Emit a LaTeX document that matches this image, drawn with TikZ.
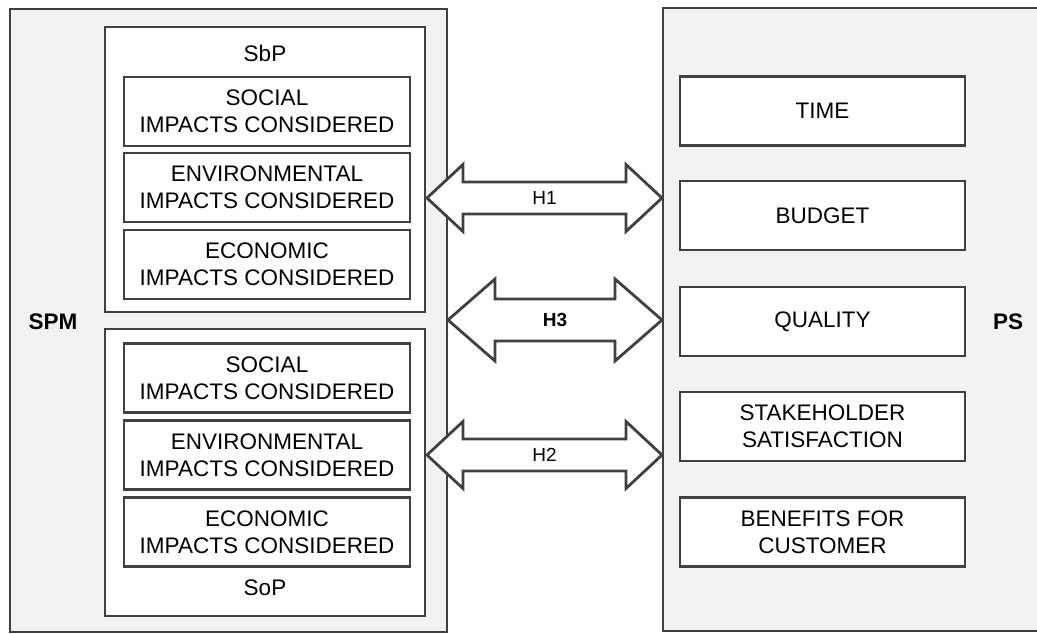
\documentclass[tikz,border=0pt]{standalone}
\usepackage{fontspec}
\setmainfont{Liberation Sans}
\definecolor{bord}{HTML}{404040}
\definecolor{panel}{HTML}{F2F2F2}
\begin{document}
\begin{tikzpicture}[x=1pt,y=-1pt,
  panelbox/.style={draw=bord, line width=2.8pt, fill=panel, rectangle, inner sep=0pt},
  groupbox/.style={draw=bord, line width=2.8pt, fill=white, rectangle, minimum width=320pt, inner sep=0pt},
  itembox/.style={draw=bord, line width=2.8pt, fill=white, rectangle, minimum width=286pt, minimum height=69pt, align=center, inner sep=0pt, font=\fontsize{22.5}{27}\selectfont},
  psbox/.style={itembox, minimum width=285pt},
  lbl/.style={font=\fontsize{22.5}{27}\selectfont, inner sep=0pt},
  blbl/.style={font=\fontsize{22.5}{27}\selectfont\bfseries, inner sep=0pt},
  harrow/.style={draw=bord, line width=2.8pt, fill=white, line join=miter},
  hlbl/.style={font=\fontsize{19}{22}\selectfont, inner sep=0pt}
]
\useasboundingbox (0,0) rectangle (1037,634);
\clip (0,0) rectangle (1037,634);
\fill[white] (0,0) rectangle (1037,634);

% left panel
\node[panelbox, minimum width=437pt, minimum height=623pt] (SPMbox) at (228.5,320.5) {};
\node[blbl] (SPM) at (53,322) {SPM};

% SbP group
\node[groupbox, minimum height=285pt] (SbP) at (265,169.5) {};
\node[lbl] (SbPlabel) at (265,53) {SbP};
\node[itembox] (sbsoc) at (267,111.5) {SOCIAL\\IMPACTS CONSIDERED};
\node[itembox] (sbenv) at (267,187.5) {ENVIRONMENTAL\\IMPACTS CONSIDERED};
\node[itembox] (sbeco) at (267,264.5) {ECONOMIC\\IMPACTS CONSIDERED};

% SoP group
\node[groupbox, minimum height=287pt] (SoP) at (265,472.5) {};
\node[itembox] (sosoc) at (267,378) {SOCIAL\\IMPACTS CONSIDERED};
\node[itembox] (soenv) at (267,455) {ENVIRONMENTAL\\IMPACTS CONSIDERED};
\node[itembox] (soeco) at (267,532) {ECONOMIC\\IMPACTS CONSIDERED};
\node[lbl] (SoPlabel) at (265,588) {SoP};

% right panel
\node[panelbox, minimum width=390pt, minimum height=623pt] (PSbox) at (858,319.5) {};
\node[blbl] (PS) at (1008,322) {PS};
\node[psbox] (time) at (822.5,111) {TIME};
\node[psbox] (budget) at (822.5,215.5) {BUDGET};
\node[psbox] (quality) at (822.5,321.5) {QUALITY};
\node[psbox] (stake) at (822.5,426.5) {STAKEHOLDER\\SATISFACTION};
\node[psbox] (benef) at (822.5,532) {BENEFITS FOR\\CUSTOMER};

% hypothesis arrows
\draw[harrow] (427,198) -- (463,164.5) -- (463,182) -- (626,182) -- (626,164.5) -- (662,198)
  -- (626,231.5) -- (626,214) -- (463,214) -- (463,231.5) -- cycle;
\node[hlbl] (H1) at (544.5,198) {H1};

\draw[harrow] (448,320) -- (495,279) -- (495,299) -- (615,299) -- (615,279) -- (662,320)
  -- (615,361) -- (615,341) -- (495,341) -- (495,361) -- cycle;
\node[hlbl, font=\fontsize{19}{22}\selectfont\bfseries] (H3) at (555,320) {H3};

\draw[harrow] (427,455) -- (463,421.5) -- (463,439) -- (626,439) -- (626,421.5) -- (662,455)
  -- (626,488.5) -- (626,471) -- (463,471) -- (463,488.5) -- cycle;
\node[hlbl] (H2) at (544.5,455) {H2};
\end{tikzpicture}
\end{document}
